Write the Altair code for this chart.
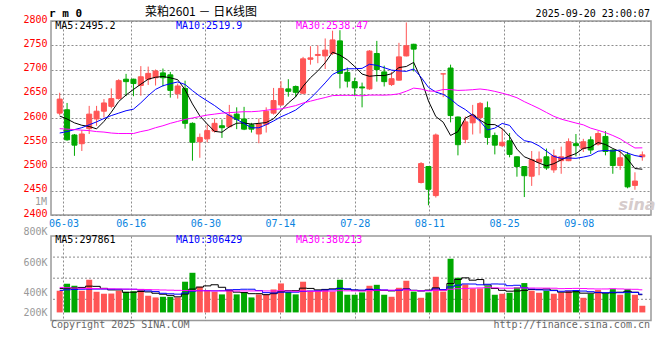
import json
import numpy as np
import pandas as pd
import altair as alt

# ---------------- data ----------------
opens = [2610, 2617, 2565, 2547, 2578, 2598, 2614, 2624, 2640, 2680,
         2680, 2667, 2680, 2683, 2693, 2689, 2650, 2661, 2589, 2551,
         2557, 2573, 2584, 2582, 2608, 2598, 2586, 2567, 2587, 2610,
         2627, 2660, 2665, 2651, 2721, 2729, 2728, 2733, 2759, 2694,
         2675, 2664, 2660, 2733, 2695, 2669, 2678, 2728, 2752, 2467,
         2500, 2440, 2691, 2703, 2602, 2556, 2590, 2601, 2621, 2564,
         2543, 2553, 2520, 2500, 2480, 2509, 2520, 2493, 2512, 2512,
         2547, 2537, 2555, 2546, 2562, 2534, 2502, 2524, 2461, 2520]
highs = [2652, 2631, 2567, 2575, 2625, 2625, 2639, 2661, 2680, 2691,
         2681, 2707, 2706, 2700, 2702, 2695, 2671, 2677, 2591, 2568,
         2586, 2599, 2597, 2627, 2622, 2623, 2590, 2599, 2622, 2662,
         2676, 2680, 2667, 2726, 2748, 2750, 2764, 2780, 2781, 2704,
         2683, 2673, 2740, 2759, 2708, 2695, 2755, 2797, 2753, 2509,
         2501, 2568, 2691, 2710, 2603, 2603, 2627, 2633, 2634, 2570,
         2579, 2569, 2521, 2501, 2532, 2531, 2537, 2535, 2541, 2558,
         2567, 2557, 2562, 2573, 2573, 2536, 2533, 2530, 2488, 2531]
lows = [2606, 2553, 2522, 2532, 2567, 2584, 2601, 2620, 2638, 2645,
        2645, 2646, 2668, 2667, 2665, 2642, 2640, 2578, 2512, 2518,
        2550, 2570, 2559, 2580, 2577, 2575, 2570, 2548, 2570, 2607,
        2625, 2644, 2643, 2649, 2710, 2713, 2701, 2730, 2661, 2663,
        2645, 2622, 2658, 2675, 2665, 2666, 2677, 2727, 2696, 2465,
        2420, 2436, 2643, 2591, 2523, 2548, 2566, 2568, 2545, 2525,
        2540, 2519, 2479, 2437, 2460, 2482, 2493, 2487, 2485, 2511,
        2521, 2530, 2526, 2543, 2523, 2485, 2493, 2455, 2452, 2512]
closes = [2639, 2555, 2544, 2567, 2608, 2614, 2631, 2640, 2677, 2675,
          2671, 2685, 2692, 2697, 2683, 2657, 2666, 2589, 2550, 2560,
          2574, 2589, 2580, 2606, 2597, 2577, 2577, 2588, 2614, 2636,
          2661, 2655, 2653, 2722, 2724, 2731, 2740, 2761, 2692, 2676,
          2662, 2662, 2738, 2700, 2675, 2681, 2726, 2749, 2742, 2506,
          2453, 2565, 2691, 2605, 2545, 2592, 2606, 2630, 2560, 2544,
          2550, 2525, 2500, 2481, 2514, 2515, 2497, 2522, 2520, 2551,
          2543, 2551, 2534, 2568, 2531, 2502, 2518, 2458, 2470, 2524]
ma5 = [2604, 2598, 2590, 2585, 2582.6, 2577.6, 2592.8, 2612.0, 2634.0, 2647.4,
       2658.8, 2669.6, 2680.0, 2684.0, 2685.6, 2682.8, 2679.0, 2658.4, 2629.0, 2604.4,
       2587.8, 2572.4, 2570.6, 2581.8, 2589.2, 2589.8, 2587.4, 2589.0, 2590.6, 2598.4,
       2615.2, 2630.8, 2643.8, 2665.4, 2683.0, 2697.0, 2714.0, 2735.6, 2729.6, 2720.0,
       2706.2, 2690.6, 2686.0, 2687.6, 2687.4, 2691.2, 2704.0, 2706.2, 2714.6, 2680.8,
       2635.2, 2603.0, 2591.4, 2564.0, 2571.8, 2599.6, 2607.8, 2595.6, 2586.6, 2586.4,
       2578.0, 2561.8, 2535.8, 2520.0, 2514.0, 2507.0, 2501.4, 2505.8, 2513.6, 2521.0,
       2526.6, 2537.4, 2539.8, 2549.4, 2545.4, 2537.2, 2530.6, 2515.4, 2495.8, 2494.4]
ma10 = [2569, 2572, 2576, 2580, 2586, 2592, 2599, 2605, 2610, 2615.0,
        2618.2, 2631.2, 2646.0, 2659.0, 2666.5, 2670.8, 2674.3, 2669.2, 2656.5, 2645.0,
        2635.3, 2625.7, 2614.5, 2605.4, 2596.8, 2588.8, 2579.9, 2579.8, 2586.2, 2593.8,
        2602.5, 2609.1, 2616.4, 2628.0, 2640.7, 2656.1, 2672.4, 2689.7, 2697.5, 2701.5,
        2701.6, 2702.3, 2710.8, 2708.6, 2703.7, 2698.7, 2697.3, 2696.1, 2701.1, 2684.1,
        2663.2, 2653.5, 2648.8, 2639.3, 2626.3, 2617.4, 2605.4, 2593.5, 2575.3, 2579.1,
        2588.8, 2584.8, 2565.7, 2553.3, 2550.2, 2542.5, 2531.6, 2520.8, 2516.8, 2517.5,
        2516.8, 2519.4, 2522.8, 2531.5, 2533.2, 2531.9, 2534.0, 2527.6, 2522.6, 2519.9]
ma30 = [2578, 2577, 2576, 2575, 2574, 2572, 2571, 2569, 2568, 2568,
        2568, 2572, 2575, 2580, 2584, 2589, 2593, 2597, 2600, 2603,
        2606, 2608, 2610, 2611, 2612, 2613, 2613, 2614, 2616, 2617.9,
        2618.7, 2622.0, 2625.6, 2630.8, 2634.7, 2638.6, 2642.2, 2646.2, 2646.7, 2646.8,
        2646.5, 2645.7, 2647.2, 2647.3, 2647.1, 2647.9, 2649.9, 2655.2, 2661.6, 2659.8,
        2655.8, 2655.0, 2658.7, 2658.6, 2656.9, 2657.4, 2658.4, 2659.8, 2658.0, 2654.9,
        2651.2, 2646.9, 2641.8, 2633.7, 2626.7, 2619.5, 2611.4, 2603.5, 2597.7, 2593.6,
        2589.6, 2585.9, 2579.1, 2574.7, 2569.9, 2563.9, 2557.0, 2547.3, 2538.2, 2538.5]

# volumes in thousands of lots
volumes_k = [364, 482, 448, 364, 549, 347, 314, 317, 364, 347,
             356, 376, 280, 252, 263, 263, 252, 516, 666, 431,
             364, 347, 303, 386, 303, 330, 252, 303, 303, 386,
             487, 347, 303, 516, 364, 364, 386, 350, 549, 297,
             297, 336, 448, 464, 297, 263, 414, 532, 350, 246,
             336, 599, 350, 902, 583, 470, 403, 403, 440, 297,
             314, 330, 420, 493, 364, 330, 364, 314, 330, 364,
             364, 246, 314, 376, 319, 392, 297, 392, 297, 112]
vol_ma5_k = [400, 405, 412, 420, 441.4, 438.0, 404.4, 378.2, 378.2, 337.8,
             339.6, 352.0, 344.6, 322.2, 305.4, 286.8, 262.0, 309.2, 392.0, 425.6,
             445.8, 464.8, 422.2, 366.2, 340.6, 333.8, 314.8, 314.8, 298.2, 314.8,
             346.2, 365.2, 365.2, 407.8, 403.4, 378.8, 386.6, 396.0, 402.6, 389.2,
             375.8, 365.8, 385.4, 368.4, 368.4, 361.6, 377.2, 394.0, 371.2, 361.0,
             375.6, 412.6, 376.2, 486.6, 554.0, 580.8, 541.6, 552.2, 459.8, 402.6,
             371.4, 356.8, 360.2, 370.8, 384.2, 387.4, 394.2, 373.0, 340.4, 340.4,
             347.2, 323.6, 323.6, 332.8, 323.8, 329.4, 339.6, 355.2, 339.4, 297.9]
vol_ma10_k = [370, 380, 385, 390, 392, 392, 392, 390, 390, 389.6,
              388.8, 378.2, 361.4, 350.2, 321.6, 313.2, 307.0, 326.9, 357.1, 365.5,
              366.3, 363.4, 365.7, 379.1, 383.1, 389.8, 389.8, 368.5, 332.2, 327.7,
              340.0, 340.0, 340.0, 353.0, 359.1, 362.5, 375.9, 380.6, 405.2, 396.3,
              377.3, 376.2, 390.7, 385.5, 378.8, 368.7, 371.5, 389.7, 369.8, 364.7,
              368.6, 394.9, 385.1, 428.9, 457.5, 478.2, 477.1, 464.2, 473.2, 478.3,
              476.1, 449.2, 456.2, 415.3, 393.4, 379.4, 375.5, 366.6, 355.6, 362.3,
              367.3, 358.9, 348.3, 336.6, 332.1, 338.3, 331.6, 339.4, 336.1, 306.4]
vol_ma30_k = [420, 415, 410, 405, 402, 400, 398, 396, 394, 392,
              390, 387, 384, 380, 377, 374, 371, 368, 366, 364,
              362, 360, 360, 360, 360, 361, 361, 361, 361, 360.9,
              365.0, 360.5, 355.7, 360.8, 354.6, 355.2, 357.6, 358.7, 364.8, 363.2,
              361.2, 359.9, 365.5, 372.5, 373.7, 373.7, 379.1, 379.6, 369.1, 362.9,
              362.0, 370.4, 371.9, 389.1, 398.5, 403.1, 408.2, 411.5, 416.1, 413.1,
              407.3, 406.8, 410.7, 409.9, 409.9, 408.8, 408.0, 406.8, 399.5, 401.8,
              404.0, 401.0, 396.5, 393.6, 394.3, 398.6, 394.7, 390.1, 388.3, 380.2]

tick_labels = ["06-03", "06-16", "06-30", "07-14", "07-28", "08-11", "08-25", "09-08"]
tick_index = [1, 10, 20, 30, 40, 50, 60, 70]
price_ticks = [2400, 2450, 2500, 2550, 2600, 2650, 2700, 2750, 2800]
vol_tick_k = [800, 600, 400, 200]
price_legend = [2495.2, 2519.9, 2538.47]
vol_legend = [297861, 306429, 380213]
ma_names = ["MA5", "MA10", "MA30"]

code_text = "r m 0"
title_text = "菜粕2601 － 日K线图"
stamp_text = "2025-09-20 23:00:07"
copyright_text = "Copyright 2025 SINA.COM"
url_text = "http://finance.sina.com.cn"
side_text = "1M"
logo_text = "sina"

# ---------------- styles ----------------
RED = "#ff5555"
GREEN = "#00a800"
GRID = "#8c8c8c"
BLUE_LBL = "#0a84e0"
MA_COLORS = ["#000000", "#0000ff", "#ff00ff"]
MONO = "DejaVu Sans Mono"
CJK = "Noto Sans CJK SC"
W, H1, H2, GAP = 600, 194, 84.4, 21

N = len(closes)
df = pd.DataFrame({"i": range(N), "open": opens, "high": highs, "low": lows,
                   "close": closes, "ma5": ma5, "ma10": ma10, "ma30": ma30})
df["dir"] = np.where(df["close"] >= df["open"], "up", "down")
df["body_lo"] = df[["open", "close"]].min(axis=1)
df["body_hi"] = df[["open", "close"]].max(axis=1)

vdf = pd.DataFrame({"i": range(N), "vol": volumes_k, "v5": vol_ma5_k,
                    "v10": vol_ma10_k, "v30": vol_ma30_k, "dir": df["dir"]})

# Sina spaces its date gridlines over N-1 intervals while candles use N slots
grid_pos = [k * N / (N - 1) - 0.5 for k in tick_index]
label_expr = (f"{json.dumps(tick_labels)}[indexof({json.dumps(tick_index)}, "
              f"round((datum.value + 0.5) * {N - 1} / {N}))]")

x_scale = alt.Scale(domain=[-0.5, N - 0.5], nice=False, zero=False)
x_axis_top = alt.Axis(values=grid_pos, grid=True, gridColor=GRID, gridDash=[2, 2],
                      gridWidth=1, ticks=False, domain=False, title=None,
                      labelExpr=label_expr, labelColor=BLUE_LBL, labelFont=MONO,
                      labelFontSize=10, labelPadding=3, labelFlush=False,
                      labelOverlap=False, labelBaseline="top")
x_axis_bot = alt.Axis(values=grid_pos, grid=True, gridColor=GRID, gridDash=[2, 2],
                      gridWidth=1, ticks=False, domain=False, title=None, labels=False)
X_TOP = alt.X("i:Q", scale=x_scale, axis=x_axis_top)
X_BOT = alt.X("i:Q", scale=x_scale, axis=x_axis_bot)

price_scale = alt.Scale(domain=[2400, 2800], nice=False, zero=False)
price_axis = alt.Axis(values=price_ticks, format="d", grid=True, gridColor=GRID,
                      gridDash=[2, 2], gridWidth=1, ticks=False, domain=False, title=None,
                      labelColor="#ff0000", labelFont=MONO, labelFontSize=10,
                      labelPadding=4, labelOffset=-2, labelBaseline="middle",
                      labelFlush=False, labelOverlap=False)


def yp(field):
    return alt.Y(f"{field}:Q", scale=price_scale, axis=price_axis)


dir_scale = alt.Scale(domain=["up", "down"], range=[RED, GREEN])
color_enc = alt.Color("dir:N", scale=dir_scale, legend=None)
stroke_enc = alt.Stroke("dir:N", scale=dir_scale, legend=None)


def txt(s, x, y, color="#000000", size=10, align="left", font=MONO,
        weight="normal", style="normal"):
    return alt.Chart(pd.DataFrame({"t": [s]})).mark_text(
        align=align, baseline="middle", font=font, fontSize=size,
        fontWeight=weight, fontStyle=style, color=color
    ).encode(x=alt.value(x), y=alt.value(y), text="t:N")


# anchor so that the page origin sits 50px left / 19.3px above the price plot
anchor = alt.Chart(pd.DataFrame({"a": [0]})).mark_rule(color="white", strokeWidth=1).encode(
    x=alt.value(-49.5), x2=alt.value(-48.5), y=alt.value(-18.8), y2=alt.value(-18.8))

base = alt.Chart(df)
wicks = base.mark_rule(strokeWidth=1).encode(x=X_TOP, y=yp("low"), y2="high:Q", color=color_enc)
bodies = base.mark_bar(size=5, strokeWidth=1).encode(
    x=X_TOP, y=yp("body_lo"), y2="body_hi:Q", color=color_enc, stroke=stroke_enc)
ma_lines = [base.mark_line(color=c, strokeWidth=1).encode(x=X_TOP, y=yp(f))
            for f, c in zip(["ma5", "ma10", "ma30"], MA_COLORS)]

legend_x = [4.3, 125, 245]
top_texts = [
    txt(code_text, -2, -7.3, size=11, weight="bold"),
    txt(title_text, 150, -9.3, size=12, align="center", font=CJK),
    txt(stamp_text, 599, -7.3, align="right"),
    txt(side_text, -4, 180.7, color="#999999", align="right"),
    txt(logo_text, 586, 184, color="#d6cccc", size=16, align="center",
        font="DejaVu Sans", weight="bold", style="italic"),
] + [txt(f"{n}:{v}", lx, 4.7, color=c)
     for n, v, lx, c in zip(ma_names, price_legend, legend_x, MA_COLORS)]

top = alt.layer(anchor, wicks, bodies, *ma_lines, *top_texts).properties(width=W, height=H1)

# ---------------- volume panel ----------------
vol_scale = alt.Scale(domain=[-134, 1284], nice=False, zero=False)
vbase = alt.Chart(vdf)
vgrid = alt.Chart(pd.DataFrame({"q": [1, 2, 3]})).mark_rule(
    color=GRID, strokeDash=[2, 2], strokeWidth=1).encode(
    y=alt.Y("q:Q", scale=alt.Scale(domain=[0, 4], nice=False, zero=False), axis=None))
vbars = vbase.mark_bar(size=6).encode(
    x=X_BOT, y=alt.Y("vol:Q", scale=vol_scale, axis=None), y2=alt.datum(0), color=color_enc)
vlines = [vbase.mark_line(color=c, strokeWidth=1, interpolate="step").encode(
    x=X_BOT, y=alt.Y(f"{f}:Q", scale=vol_scale, axis=None))
    for f, c in zip(["v5", "v10", "v30"], MA_COLORS)]
vlabels = alt.Chart(pd.DataFrame({"v": vol_tick_k})).mark_point(opacity=0).encode(
    y=alt.Y("v:Q",
            scale=alt.Scale(domain=[200, 400, 800], range=[76.4, 56.4, -4.3],
                            nice=False, zero=False),
            axis=alt.Axis(orient="left", values=vol_tick_k, labelExpr="datum.value + 'K'",
                          ticks=False, domain=False, grid=False, title=None,
                          labelColor="#999999", labelFont=MONO, labelFontSize=10,
                          labelPadding=4, labelBaseline="middle", labelFlush=False,
                          labelOverlap=False)))
bot_texts = [txt(f"{n}:{v}", lx, 4.4, color=c)
             for n, v, lx, c in zip(ma_names, vol_legend, legend_x, MA_COLORS)] + [
    txt(copyright_text, 0, 89, color="#666666"),
    txt(url_text, 599, 89, color="#666666", align="right"),
]

bottom = alt.layer(vgrid, vbars, *vlines, vlabels, *bot_texts).resolve_scale(
    y="independent").properties(width=W, height=H2)

chart = alt.vconcat(top, bottom, spacing=GAP, bounds="flush").properties(
    padding=0, autosize=alt.AutoSizeParams(type="pad"), background="white"
).configure_view(stroke="#999999", strokeWidth=1.5)

chart.save("out.html", embed_options={"renderer": "svg", "actions": False})
